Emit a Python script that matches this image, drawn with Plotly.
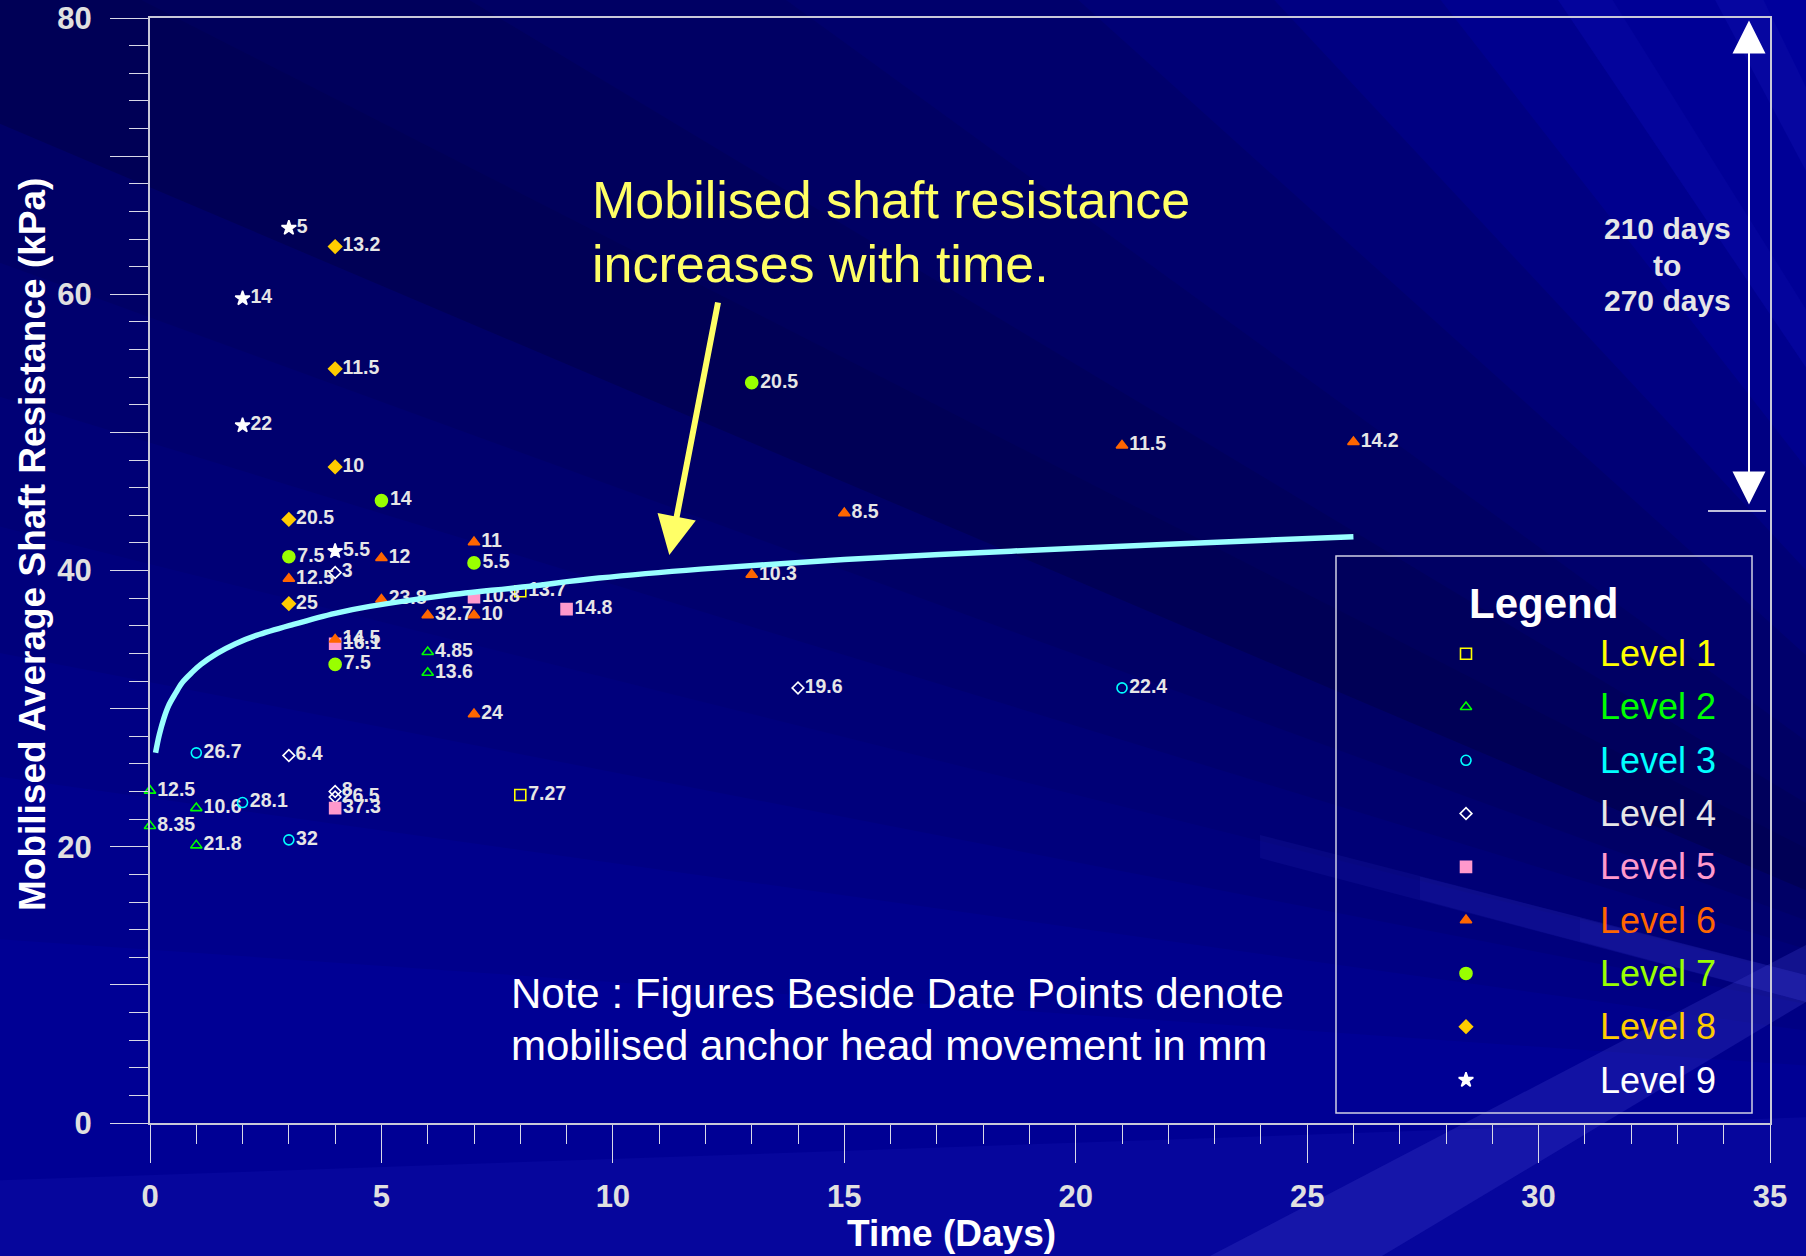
import math
import plotly.graph_objects as go

# ---------------------------------------------------------------------------
# Anchor load tests: days after stressing, mobilised average shaft
# resistance (kPa) and the anchor head movement (mm) written beside each point
# ---------------------------------------------------------------------------
level1_days = [8, 8]
level1_kpa = [38.5, 23.75]
level1_mm = ["13.7", "7.27"]

level2_days = [0, 0, 1, 1, 6, 6]
level2_kpa = [24.06, 21.5, 22.8, 20.1, 34.1, 32.6]
level2_mm = ["12.5", "8.35", "10.6", "21.8", "4.85", "13.6"]

level3_days = [1, 2, 3, 21]
level3_kpa = [26.8, 23.2, 20.5, 31.5]
level3_mm = ["26.7", "28.1", "32", "22.4"]

level4_days = [4, 3, 4, 4, 14]
level4_kpa = [39.85, 26.6, 24.0, 23.6, 31.5]
level4_mm = ["3", "6.4", "8", "26.5", "19.6"]

level5_days = [4, 7, 9, 4]
level5_kpa = [34.7, 38.07, 37.2, 22.8]
level5_mm = ["16.1", "10.8", "14.8", "37.3"]

level6_days = [7, 5, 3, 5, 6, 7, 4, 7, 13, 15, 21, 26]
level6_kpa = [42.05, 40.9, 39.4, 37.9, 36.76, 36.76, 35.0, 29.6, 39.7, 44.15, 49.05, 49.3]
level6_mm = ["11", "12", "12.5", "23.8", "32.7", "10", "14.5", "24", "10.3", "8.5", "11.5", "14.2"]

level7_days = [5, 3, 7, 4, 13]
level7_kpa = [45.06, 41.0, 40.55, 33.2, 53.6]
level7_mm = ["14", "7.5", "5.5", "7.5", "20.5"]

level8_days = [4, 4, 4, 3, 3]
level8_kpa = [63.45, 54.6, 47.5, 43.7, 37.6]
level8_mm = ["13.2", "11.5", "10", "20.5", "25"]

level9_days = [3, 2, 2, 4]
level9_kpa = [64.8, 59.7, 50.5, 41.4]
level9_mm = ["5", "14", "22", "5.5"]

# trend of shaft resistance with time
trend_days = [0.12, 0.2, 0.3, 0.4, 0.55, 0.7, 0.9, 1.1, 1.45, 1.85, 2.3, 3.1,
              4.0, 4.75, 6.4, 8.05, 9.7, 11.9, 15.0, 18.6, 22.0, 26.0]
trend_kpa = [26.8, 28.1, 29.3, 30.2, 31.1, 31.9, 32.6, 33.2, 34.0, 34.7, 35.3, 36.1,
             36.9, 37.4, 38.2, 38.8, 39.45, 40.1, 40.8, 41.4, 41.9, 42.45]

level_names = ["Level 1", "Level 2", "Level 3", "Level 4", "Level 5",
               "Level 6", "Level 7", "Level 8", "Level 9"]

x_tick_vals = [0, 5, 10, 15, 20, 25, 30, 35]
y_tick_vals = [0, 10, 20, 30, 40, 50, 60, 70, 80]
y_tick_text = ["0", "", "20", "", "40", "", "60", "", "80"]

# ---------------------------------------------------------------------------
# styling
# ---------------------------------------------------------------------------
FONT = "Liberation Sans, Arial, sans-serif"
W, H = 1806, 1256
M_L, M_R, M_T, M_B = 150, 36, 18, 133
PLOT_W = W - M_L - M_R
PLOT_H = H - M_T - M_B


def fx(px):
    """pixel column -> paper x"""
    return (px - M_L) / PLOT_W


def fy(py):
    """pixel row -> paper y"""
    return (H - M_B - py) / PLOT_H


def poly_path(points):
    return "M " + " L ".join(f"{fx(px):.5f},{fy(py):.5f}" for px, py in points) + " Z"


series = [
    (level1_days, level1_kpa, level1_mm, "square-open", "#FFFF00", 11),
    (level2_days, level2_kpa, level2_mm, "triangle-up-open", "#00FF00", 10),
    (level3_days, level3_kpa, level3_mm, "circle-open", "#00FFFF", 10),
    (level4_days, level4_kpa, level4_mm, "diamond-open", "#FFFFFF", 9),
    (level5_days, level5_kpa, level5_mm, "square", "#FF99CC", 11),
    (level6_days, level6_kpa, level6_mm, "triangle-up", "#FF6600", 10),
    (level7_days, level7_kpa, level7_mm, "circle", "#99FF00", 12),
    (level8_days, level8_kpa, level8_mm, "diamond", "#FFCC00", 10),
    (level9_days, level9_kpa, level9_mm, "star", "#FFFFFF", 11),
]
legend_text_colors = ["#FFFF00", "#00FF00", "#00FFFF", "#E6E6E6", "#FF99CC",
                      "#FF6600", "#99FF00", "#FFCC00", "#FFFFFF"]

fig = go.Figure()

for (days, kpa, mm, symbol, color, size), name in zip(series, level_names):
    fig.add_trace(go.Scatter(
        x=days, y=kpa, text=mm, name=name,
        mode="markers+text", textposition="middle right",
        textfont=dict(family=FONT, size=19.5, color="#E6E6E6", weight="bold"),
        marker=dict(symbol=symbol, color=color, size=size,
                    line=dict(color=color, width=1.6)),
        cliponaxis=False, showlegend=False,
    ))

fig.add_trace(go.Scatter(
    x=trend_days, y=trend_kpa, mode="lines", name="trend",
    line=dict(color="#99FFFF", width=5.5, shape="spline", smoothing=1),
    showlegend=False, cliponaxis=False,
))

# ---- hand-built key in its own small axes inside the framed box
LEG_SYMBOL_X = 0.3125
LEG_TEXT_X = 0.63
for row, ((_, _, _, symbol, color, size), name, tcol) in enumerate(
        zip(series, level_names, legend_text_colors)):
    fig.add_trace(go.Scatter(
        x=[LEG_SYMBOL_X], y=[row], xaxis="x2", yaxis="y2", mode="markers",
        marker=dict(symbol=symbol, color=color, size=size,
                    line=dict(color=color, width=1.6)),
        showlegend=False, hoverinfo="skip", cliponaxis=False,
    ))
    fig.add_annotation(x=LEG_TEXT_X, y=row, xref="x2", yref="y2", text=name,
                       showarrow=False, xanchor="left", yanchor="middle",
                       font=dict(family=FONT, size=36, color=tcol))

fig.add_annotation(x=fx(1543), y=fy(603), xref="paper", yref="paper", text="Legend",
                   showarrow=False, xanchor="center", yanchor="middle",
                   font=dict(family=FONT, size=42, color="#FFFFFF", weight="bold"))
fig.add_shape(type="rect", xref="paper", yref="paper",
              x0=fx(1336), x1=fx(1752), y0=fy(1113), y1=fy(556),
              line=dict(color="#D0D0E4", width=1.5), layer="above")

# ---- background: fan of bands radiating from the lower right
ORIGIN = (2300, 1100)
BANDS = [
    (-25, -2, "#06069C"), (-2, 4, "#000094"), (4, 8, "#00008C"),
    (8, 11, "#000084"), (11, 14, "#00007C"), (14, 17, "#000076"),
    (17, 20, "#00006E"), (20, 23, "#000066"), (23, 27, "#000056"),
    (27, 31, "#00005C"), (31, 36, "#000064"), (36, 42, "#00006C"),
    (42, 47, "#000076"), (47, 52, "#000082"), (52, 56, "#00008E"),
    (56, 58, "#04049C"), (58, 62, "#000096"), (62, 64, "#0606A0"),
    (64, 75, "#00009C"),
]
for a0, a1, col in BANDS:
    pts = [ORIGIN]
    for a in (a0, a1 + 0.25):
        r = math.radians(a)
        pts.append((ORIGIN[0] - 5000 * math.cos(r), ORIGIN[1] - 5000 * math.sin(r)))
    fig.add_shape(type="path", path=poly_path(pts), xref="paper", yref="paper",
                  fillcolor=col, line=dict(width=0), layer="below")

# soft light streaks on the right, fading out towards the left
for x_start in (1260, 1420, 1580):
    fig.add_shape(type="path", xref="paper", yref="paper", layer="below",
                  path=poly_path([(x_start, 835 + (x_start - 1260) * 0.26),
                                  (1806, 975), (1806, 1002),
                                  (x_start, 858 + (x_start - 1260) * 0.26)]),
                  fillcolor="rgba(50,50,200,0.14)", line=dict(width=0))
fig.add_shape(type="path", xref="paper", yref="paper", layer="below",
              path=poly_path([(1210, 1256), (1806, 945), (1806, 1002), (1382, 1256)]),
              fillcolor="rgba(60,60,200,0.30)", line=dict(width=0))

# ---- texts
fig.add_annotation(x=fx(590), y=fy(200), xref="paper", yref="paper",
                   text="Mobilised shaft resistance", showarrow=False,
                   xanchor="left", yanchor="middle",
                   font=dict(family=FONT, size=52, color="#FFFF66"))
fig.add_annotation(x=fx(590), y=fy(264), xref="paper", yref="paper",
                   text="increases with time.", showarrow=False,
                   xanchor="left", yanchor="middle",
                   font=dict(family=FONT, size=52, color="#FFFF66"))
fig.add_annotation(x=fx(669.3), y=fy(555), xref="paper", yref="paper", text="",
                   showarrow=True, ax=49, ay=-254, arrowhead=2, arrowsize=1.3,
                   arrowwidth=6, arrowcolor="#FFFF66")

fig.add_annotation(x=fx(509), y=fy(993), xref="paper", yref="paper",
                   text="Note : Figures Beside Date Points denote", showarrow=False,
                   xanchor="left", yanchor="middle",
                   font=dict(family=FONT, size=42, color="#FFFFFF"))
fig.add_annotation(x=fx(509), y=fy(1045), xref="paper", yref="paper",
                   text="mobilised anchor head movement in mm", showarrow=False,
                   xanchor="left", yanchor="middle",
                   font=dict(family=FONT, size=42, color="#FFFFFF"))

for txt, py in (("210 days", 228.5), ("to", 265), ("270 days", 300)):
    fig.add_annotation(x=fx(1667), y=fy(py), xref="paper", yref="paper", text=txt,
                       showarrow=False, xanchor="center", yanchor="middle",
                       font=dict(family=FONT, size=30, color="#E6E6E6", weight="bold"))
fig.add_annotation(x=fx(1749), y=fy(504.5), xref="paper", yref="paper", text="",
                   showarrow=True, ax=0, ay=-485.5, arrowside="end+start",
                   arrowhead=2, startarrowhead=2, arrowsize=3.3, startarrowsize=3.3,
                   arrowwidth=2, arrowcolor="#FFFFFF")
fig.add_shape(type="line", xref="paper", yref="paper",
              x0=fx(1708), x1=fx(1766), y0=fy(511), y1=fy(511),
              line=dict(color="#FFFFFF", width=1.5))

# axis titles
fig.add_annotation(x=fx(32), y=fy(545), xref="paper", yref="paper",
                   text="Mobilised Average Shaft Resistance (kPa)", textangle=-90,
                   showarrow=False, xanchor="center", yanchor="middle",
                   font=dict(family=FONT, size=37, color="#FFFFFF", weight="bold"))
fig.add_annotation(x=fx(951), y=fy(1233), xref="paper", yref="paper",
                   text="Time (Days)", showarrow=False,
                   xanchor="center", yanchor="middle",
                   font=dict(family=FONT, size=37, color="#FFFFFF", weight="bold"))

tick_font = dict(family=FONT, size=31, color="#E0E0E0", weight="bold")
fig.update_layout(
    width=W, height=H, autosize=False,
    margin=dict(l=M_L, r=M_R, t=M_T, b=M_B, pad=0, autoexpand=False),
    paper_bgcolor="#000090", plot_bgcolor="rgba(0,0,0,0)",
    showlegend=False,
    xaxis=dict(range=[0, 35], tickvals=x_tick_vals, ticks="outside", ticklen=38,
               tickwidth=1, tickcolor="#D8D8E8", showline=True, linecolor="#C8C8D8",
               linewidth=2, mirror=True, showgrid=False, zeroline=False,
               tickfont=tick_font, ticklabelstandoff=7, automargin=False,
               minor=dict(dtick=1, ticklen=19, tickwidth=1, tickcolor="#D8D8E8",
                          ticks="outside", showgrid=False)),
    yaxis=dict(range=[0, 80], tickvals=y_tick_vals, ticktext=y_tick_text,
               ticks="outside", ticklen=38, tickwidth=1, tickcolor="#D8D8E8",
               showline=True, linecolor="#C8C8D8", linewidth=2, mirror=True,
               showgrid=False, zeroline=False, tickfont=tick_font,
               ticklabelstandoff=12, automargin=False,
               minor=dict(dtick=2, ticklen=19, tickwidth=1, tickcolor="#D8D8E8",
                          ticks="outside", showgrid=False)),
    xaxis2=dict(domain=[fx(1336), fx(1752)], range=[0, 1], visible=False,
                anchor="y2", fixedrange=True),
    yaxis2=dict(domain=[fy(1080), fy(653.7)], range=[8, 0], visible=False,
                anchor="x2", fixedrange=True),
)

fig.write_html("out.html")
